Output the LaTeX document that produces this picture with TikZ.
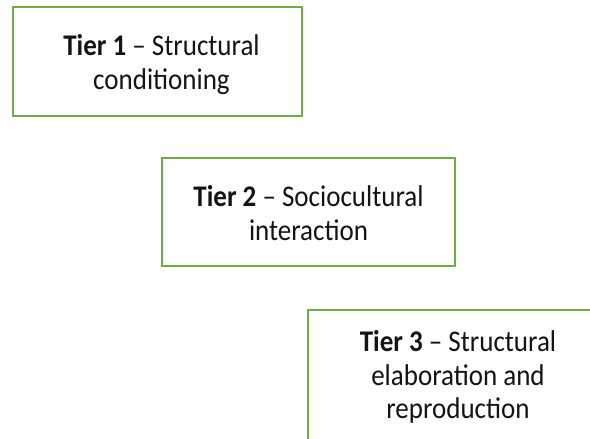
\documentclass[tikz,border=0pt]{standalone}
\usepackage{fontspec}
\setmainfont{Carlito}[FakeStretch=0.9]
\definecolor{tiergreen}{RGB}{112,173,71}
\definecolor{tiertext}{RGB}{20,20,20}
\begin{document}
\begin{tikzpicture}[x=1pt,y=-1pt,
  tierbox/.style={draw=tiergreen, line width=2.3pt, fill=white,
    rectangle, inner sep=0pt},
  tierlabel/.style={align=center, inner sep=0pt, text=tiertext,
    font=\fontsize{30}{33.5}\selectfont}]
  \useasboundingbox (0,0) rectangle (590,439);
  \clip (0,0) rectangle (590,439);
  % the three tier boxes, stepping down to the right
  \node[tierbox, minimum width=289pt, minimum height=109pt] (t1) at (157.5,61.5) {};
  \node[tierbox, minimum width=293pt, minimum height=108pt] (t2) at (308.5,212) {};
  \node[tierbox, minimum width=300pt, minimum height=130pt] (t3) at (458,375) {};
  % their captions
  \node[tierlabel] (t1l) at ([xshift=4pt,yshift=-3pt]t1.center)
    {\textbf{Tier 1} – Structural\\conditioning};
  \node[tierlabel] (t2l) at ([yshift=-1pt]t2.center)
    {\textbf{Tier 2} – Sociocultural\\interaction};
  \node[tierlabel] (t3l) at ([yshift=-2pt]t3.center)
    {\textbf{Tier 3} – Structural\\elaboration and\\reproduction};
\end{tikzpicture}
\end{document}
